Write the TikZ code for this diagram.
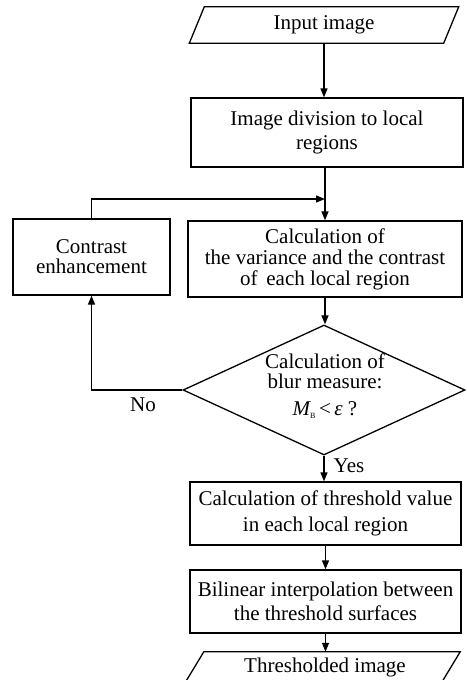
\documentclass[tikz,border=0pt]{standalone}
\usepackage{fontspec}
\setmainfont{Liberation Serif}
\usetikzlibrary{shapes.geometric,arrows.meta}
\begin{document}
\begin{tikzpicture}[x=1pt,y=-1pt,
  txt/.style={align=center,inner sep=0pt,font=\fontsize{21}{24}\selectfont},
  box/.style={txt,draw,line width=1.3pt},
  arr/.style={-{Triangle[length=9pt,width=7pt]},line width=1.3pt},
  ln/.style={line width=1.3pt}]
\useasboundingbox (0,0) rectangle (466,680);
% input parallelogram
\node[txt,minimum width=254,minimum height=36] (in) at (324,25) {Input image};
\draw[ln] ([xshift=7.5pt]in.north west) -- ([xshift=7.5pt]in.north east)
  -- ([xshift=-7.5pt]in.south east) -- ([xshift=-7.5pt]in.south west) -- cycle;
% boxes
\node[box,minimum width=272,minimum height=69] (div) at (327,132.5) {Image division to local\\regions};
\node[box,minimum width=274,minimum height=76,font=\fontsize{21}{21}\selectfont] (calc) at (325,259) {Calculation of\\the variance and the contrast\\of\, each local region};
\node[box,minimum width=157,minimum height=76,font=\fontsize{21}{20}\selectfont] (con) at (91.5,257) {Contrast\\enhancement};
\node[draw,line width=1.3pt,shape=diamond,minimum width=282,minimum height=130,inner sep=0pt] (dec) at (324,390) {};
\node[txt,font=\fontsize{21}{20}\selectfont] (dect) at (325,386) {Calculation of\\blur measure:\\[7pt]{\itshape M}\raisebox{-0.35ex}{\fontsize{8}{8}\selectfont B}\,<\,{\itshape ε} ?};
\node[box,minimum width=271,minimum height=63,font=\fontsize{21}{26}\selectfont] (thr) at (325.5,513.5) {Calculation of threshold value\\in each local region};
\node[box,minimum width=271,minimum height=63] (bil) at (325.5,601.5) {Bilinear interpolation between\\the threshold surfaces};
% output parallelogram
\node[txt,minimum width=256,minimum height=31] (out) at (322.5,667.5) {\hspace*{5pt}Thresholded image};
\draw[ln] ([xshift=9.5pt]out.north west) -- ([xshift=9.5pt]out.north east)
  -- ([xshift=-9.5pt]out.south east) -- ([xshift=-9.5pt]out.south west) -- cycle;
% connectors
\coordinate (j) at (325,199);
\draw[arr] (in.south) -- (in.south |- div.north);
\draw[ln] (div.south -| j) -- (j);
\draw[arr] (j) -- (calc.north);
\draw[arr] (con.north) |- (j);
\draw[arr] (calc.south) -- (calc.south |- dec.north);
\draw[arr] (dec.west) -| (con.south);
\draw[arr] (dec.south) -- (dec.south |- thr.north);
\draw[arr] (thr.south) -- (bil.north);
\draw[arr] (bil.south) -- (bil.south |- out.north);
% labels
\node[txt] (no) at (143,405) {No};
\node[txt] (yes) at (349,466) {Yes};
\end{tikzpicture}
\end{document}
